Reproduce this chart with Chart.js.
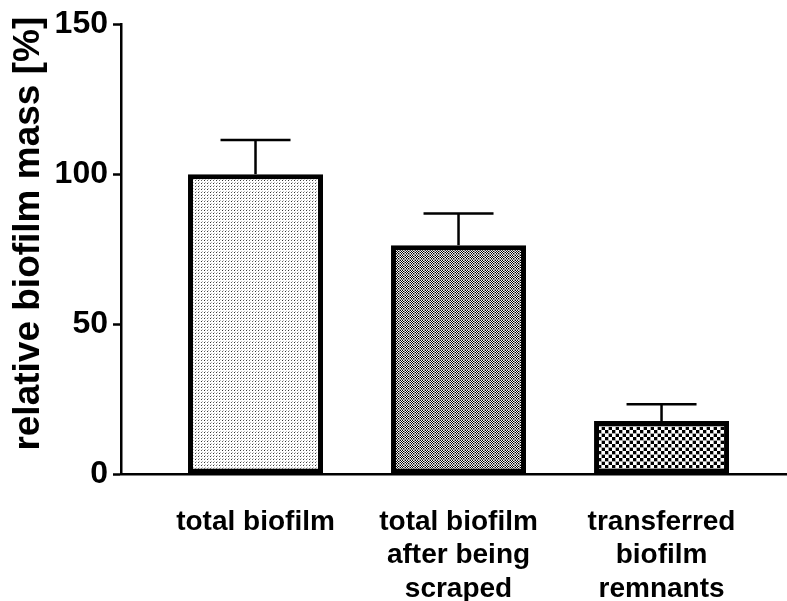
<!DOCTYPE html>
<html>
<head>
<meta charset="utf-8">
<script src="https://cdn.jsdelivr.net/npm/chart.js@4"></script>
<style>
  html, body { margin: 0; padding: 0; background: #fff; }
  canvas { display: block; }
</style>
</head>
<body>
<canvas id="chart" width="787" height="601"></canvas>
<script>
var categories = [
    ['total biofilm'],
    ['total biofilm', 'after being', 'scraped'],
    ['transferred', 'biofilm', 'remnants']
];
var positions = [1, 2, 3];
var means = [100, 76.3, 17.7];
var errors = [11.4, 10.6, 5.6];
var y_ticks = [0, 50, 100, 150];

var font_name = "'Liberation Sans', Arial, Helvetica, sans-serif";

function make_pattern(size, draw) {
    var c = document.createElement('canvas');
    c.width = size;
    c.height = size;
    var g = c.getContext('2d');
    g.fillStyle = '#fff';
    g.fillRect(0, 0, size, size);
    draw(g);
    return g.createPattern(c, 'repeat');
}

// fine dots
var light_dots = make_pattern(6, function (g) {
    g.fillStyle = '#333';
    g.fillRect(0, 0, 1, 1);
    g.fillRect(3, 3, 1, 1);
    g.fillStyle = '#666';
    g.fillRect(3, 0, 1, 1);
    g.fillRect(0, 3, 1, 1);
    g.fillStyle = '#bbb';
    g.fillRect(1, 2, 1, 1);
    g.fillRect(4, 2, 1, 1);
    g.fillRect(1, 5, 1, 1);
    g.fillRect(4, 5, 1, 1);
});

// small checker with grey lines
var small_check = make_pattern(5, function (g) {
    g.fillStyle = '#000';
    for (var x = 0; x < 4; x++) {
        for (var y = 0; y < 4; y++) {
            if ((x + y) % 2 == 0) g.fillRect(x, y, 1, 1);
        }
    }
    g.fillStyle = '#999';
    g.fillRect(4, 0, 1, 5);
    g.fillRect(0, 4, 5, 1);
});

// coarse checker
var big_check = make_pattern(7, function (g) {
    g.fillStyle = '#000';
    g.fillRect(0, 0, 3, 3);
    g.fillRect(3, 3, 3, 3);
    g.fillStyle = '#aaa';
    g.fillRect(6, 0, 1, 7);
    g.fillRect(0, 6, 7, 1);
});

var error_bars = {
    id: 'error_bars',
    afterDatasetsDraw: function (chart) {
        var ctx = chart.ctx;
        var xs = chart.scales.x;
        var ys = chart.scales.y;
        ctx.save();
        ctx.strokeStyle = '#000';
        ctx.lineWidth = 2.5;
        for (var i = 0; i < means.length; i++) {
            var px = xs.getPixelForValue(positions[i]);
            var y0 = ys.getPixelForValue(means[i]);
            var y1 = ys.getPixelForValue(means[i] + errors[i]);
            ctx.beginPath();
            ctx.moveTo(px, y0);
            ctx.lineTo(px, y1);
            ctx.moveTo(px - 35, y1);
            ctx.lineTo(px + 35, y1);
            ctx.stroke();
        }
        ctx.restore();
    }
};

var chart = new Chart(document.getElementById('chart'), {
    type: 'bar',
    data: {
        datasets: [{
            data: positions.map(function (p, i) { return { x: p, y: means[i] }; }),
            backgroundColor: [light_dots, small_check, big_check],
            borderColor: '#000',
            borderWidth: 5,
            borderSkipped: false,
            barPercentage: 0.665,
            categoryPercentage: 1
        }]
    },
    options: {
        responsive: false,
        animation: false,
        layout: { padding: { top: 23, left: 0, right: 0, bottom: 0 } },
        plugins: {
            legend: { display: false },
            tooltip: { enabled: false }
        },
        scales: {
            x: {
                type: 'linear',
                offset: false,
                min: 0.3374,
                max: 3.618,
                afterBuildTicks: function (scale) {
                    scale.ticks = positions.map(function (p) { return { value: p }; });
                },
                afterFit: function (scale) { scale.height = 127; },
                grid: { display: false, drawTicks: false },
                border: { display: true, color: '#000', width: 2.5 },
                ticks: {
                    autoSkip: false,
                    maxRotation: 0,
                    padding: 31,
                    color: '#000',
                    font: { family: font_name, size: 28, weight: 'bold', lineHeight: 1.2 },
                    callback: function (value, index) { return categories[index]; }
                }
            },
            y: {
                min: 0,
                max: 150,
                afterBuildTicks: function (scale) {
                    scale.ticks = y_ticks.map(function (v) { return { value: v }; });
                },
                afterFit: function (scale) { scale.width = 121; },
                grid: {
                    drawOnChartArea: false,
                    drawTicks: true,
                    tickLength: 8,
                    tickWidth: 2.5,
                    tickColor: '#000'
                },
                border: { display: true, color: '#000', width: 2.5 },
                ticks: {
                    padding: 5,
                    color: '#000',
                    font: { family: font_name, size: 32, weight: 'bold' }
                },
                title: {
                    display: true,
                    // leading spaces lift the rotated title a little, as in the original
                    text: '   relative biofilm mass [%]',
                    color: '#000',
                    padding: { top: 7, bottom: 0 },
                    font: { family: font_name, size: 37, weight: 'bold' }
                }
            }
        }
    },
    plugins: [error_bars]
});
</script>
</body>
</html>
